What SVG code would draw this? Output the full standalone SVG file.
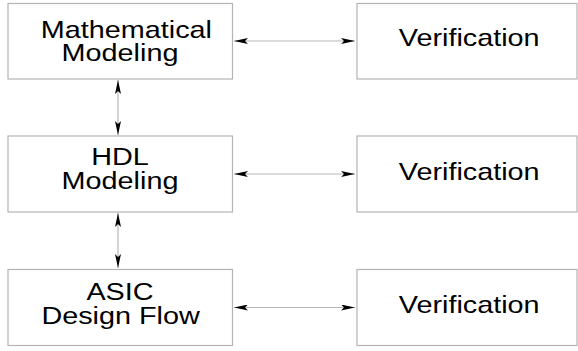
<svg xmlns="http://www.w3.org/2000/svg" width="578" height="351" viewBox="0 0 578 351">
  <style>
    .box { fill: #ffffff; stroke: #b4b4b4; stroke-width: 1.2; }
    .lbl { font-family: "Liberation Sans", Arial, sans-serif; font-size: 24px; fill: #000000; text-anchor: middle; }
    .wire { stroke: #b8b8b8; stroke-width: 1.2; fill: none; marker-start: url(#head); marker-end: url(#head); }
  </style>
  <defs>
    <marker id="head" viewBox="0 0 14 6" refX="14" refY="3" markerWidth="14" markerHeight="6" markerUnits="userSpaceOnUse" orient="auto-start-reverse">
      <path d="M0,0 L14,3 L0,6 L3,3 Z" fill="#000000"/>
    </marker>
  </defs>
  <rect width="578" height="351" fill="#ffffff"/>

  <g id="connectors">
    <line class="wire" x1="234" y1="41" x2="355" y2="41"/>
    <line class="wire" x1="234" y1="174" x2="355" y2="174"/>
    <line class="wire" x1="234" y1="307.5" x2="355" y2="307.5"/>
    <line class="wire" x1="118" y1="80" x2="118" y2="135"/>
    <line class="wire" x1="118" y1="213" x2="118" y2="268"/>
  </g>

  <g id="math-modeling">
    <rect class="box" x="8" y="3.5" width="224.5" height="75.5"/>
    <g transform="scale(1.2,1)">
      <text class="lbl" x="105.3" y="38">Mathematical</text>
      <text class="lbl" x="100" y="61">Modeling</text>
    </g>
  </g>
  <g id="verify-1">
    <rect class="box" x="357" y="3.5" width="220" height="75.5"/>
    <text class="lbl" x="391" y="46" transform="scale(1.2,1)">Verification</text>
  </g>

  <g id="hdl-modeling">
    <rect class="box" x="8" y="136" width="224.5" height="76"/>
    <g transform="scale(1.2,1)">
      <text class="lbl" x="100" y="165">HDL</text>
      <text class="lbl" x="100" y="189">Modeling</text>
    </g>
  </g>
  <g id="verify-2">
    <rect class="box" x="357" y="136" width="220" height="76"/>
    <text class="lbl" x="391" y="180" transform="scale(1.2,1)">Verification</text>
  </g>

  <g id="asic-flow">
    <rect class="box" x="8" y="269.5" width="224.5" height="76"/>
    <g transform="scale(1.2,1)">
      <text class="lbl" x="100" y="300">ASIC</text>
      <text class="lbl" x="100.5" y="324">Design Flow</text>
    </g>
  </g>
  <g id="verify-3">
    <rect class="box" x="357" y="269.5" width="220" height="76"/>
    <text class="lbl" x="391" y="313" transform="scale(1.2,1)">Verification</text>
  </g>
</svg>
